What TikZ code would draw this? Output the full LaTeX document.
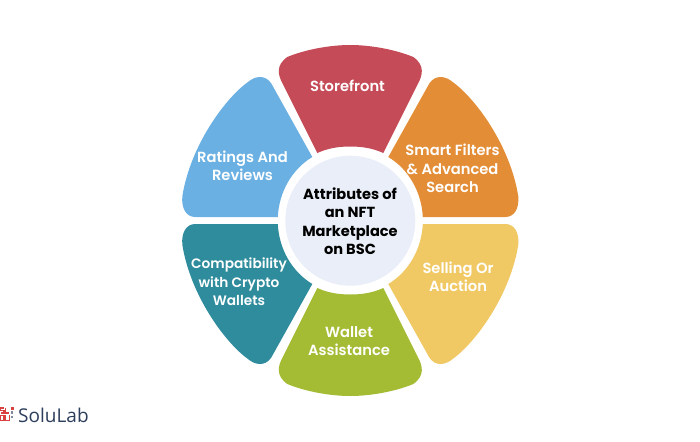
\documentclass[tikz,border=0pt]{standalone}
\usepackage{fontspec}
\setmainfont{Poppins}[BoldFont={Poppins SemiBold}]
\newfontfamily\heavy{Poppins Bold}
\setsansfont{Open Sans}
\definecolor{cred}{HTML}{C44B57}
\definecolor{corange}{HTML}{E38E37}
\definecolor{cyellow}{HTML}{F1C964}
\definecolor{cgreen}{HTML}{A3BC33}
\definecolor{cteal}{HTML}{2F8C9D}
\definecolor{cblue}{HTML}{6BB0E2}
\definecolor{ccentre}{HTML}{E9EEF8}
\definecolor{clogo}{HTML}{2C3E5C}
\definecolor{clogored}{HTML}{D8413F}
\newcommand{\sidepetal}{(72.5,-3.5) -- (155,-3.5) .. controls (164,-3.5) and (169,-12) .. (168,-24) .. controls (160,-75) and (125,-122) .. (103,-138) .. controls (95,-145) and (85,-146) .. (79,-137) -- (38,-63.5) .. controls (58.9,-50.9) and (71.3,-27.9) .. (72.5,-3.5) -- cycle}
\newcommand{\toppetal}{(33,-67.5) -- (68,-137.5) .. controls (72,-145) and (75,-155) .. (63,-163.5) .. controls (45,-171) and (20,-175.5) .. (0,-175.5) .. controls (-20,-175.5) and (-45,-171) .. (-63,-163.5) .. controls (-75,-155) and (-72,-145) .. (-68,-137.5) -- (-33,-67.5) .. controls (-22,-72.5) and (-11,-74) .. (0,-74) .. controls (11,-74) and (22,-72.5) .. (33,-67.5) -- cycle}
\tikzset{
  petaltext/.style={text=white,font=\fontsize{14.7}{18.5}\selectfont\bfseries,align=center,inner sep=0pt},
  centretext/.style={text=black,font=\heavy\fontsize{14.6}{18.5}\selectfont,align=center,inner sep=0pt},
  logobit/.style={draw=clogored,line width=1.1pt,fill=none}
}
\begin{document}
\begin{tikzpicture}[x=1pt,y=-1pt]
\useasboundingbox (0,0) rectangle (700,441);
\fill[white] (0,0) rectangle (700,441);
\begin{scope}[shift={(350.3,220.5)}]
  \fill[cred] \toppetal;
  \fill[corange] \sidepetal;
\end{scope}
\begin{scope}[shift={(350.3,220.5)},xscale=-1]
  \fill[cblue] \sidepetal;
\end{scope}
\begin{scope}[shift={(350.3,220.5)},yscale=-1]
  \fill[cgreen] \toppetal;
  \fill[cyellow] \sidepetal;
\end{scope}
\begin{scope}[shift={(350.3,220.5)},xscale=-1,yscale=-1]
  \fill[cteal] \sidepetal;
\end{scope}
\fill[ccentre] (350.3,220.7) circle[radius=65];
\node[petaltext] (store) at (347.5,86) {Storefront};
\node[petaltext] (smart) at (452.5,168.5) {Smart Filters\\\& Advanced\\Search};
\node[petaltext] (rate) at (242.5,166) {Ratings And\\Reviews};
\node[petaltext] (sell) at (458,277) {Selling Or\\Auction};
\node[petaltext] (wallet) at (349,341) {Wallet\\Assistance};
\node[petaltext,font=\fontsize{13.7}{18.5}\selectfont\bfseries] (compat) at (239,282) {Compatibility\\with Crypto\\Wallets};
\node[centretext] (centre) at (350,221) {Attributes of\\an NFT\\Marketplace\\on BSC};
% logo mark
\draw[logobit] (4,408) -- (0.6,408) -- (0.6,410.5) -- (4,410.5) -- (4,413) -- (0.6,413);
\draw[logobit] (5.8,407.5) -- (5.8,413) -- (9.2,413);
\draw[logobit] (0.6,415.5) rectangle (4,420.5);
\draw[logobit] (5.8,415) -- (5.8,420.5) -- (9.2,420.5) -- (9.2,415);
\fill[clogored] (10.5,407) rectangle (13.5,409.5);
\fill[clogo!60] (11,411) rectangle (13,413.5);
\fill[clogo!60] (11,416) rectangle (13,418);
\node[anchor=west,inner sep=0pt,text=clogo,font=\sffamily\fontsize{19}{24}\selectfont] (logo) at (18,415) {SoluLab};
\end{tikzpicture}
\end{document}
